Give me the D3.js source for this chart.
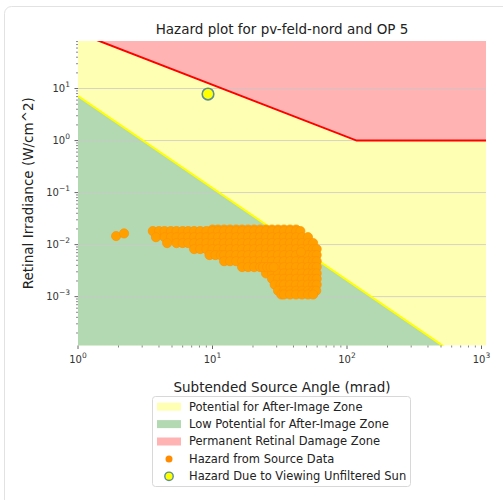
<!DOCTYPE html>
<html><head><meta charset="utf-8">
<script src="https://cdn.jsdelivr.net/npm/d3@7/dist/d3.min.js"></script>
<style>body{margin:0;background:#fff} svg{display:block;font-family:"DejaVu Sans",sans-serif}</style>
</head><body><svg id="c" width="503" height="500"></svg>
<script>
const titleText = "Hazard plot for pv-feld-nord and OP 5";
const xLabelText = "Subtended Source Angle (mrad)";
const yLabelText = "Retinal Irradiance (W/cm^2)";
const xDomain = [1, 1080];
const yDomain = [1.15e-4, 82];
const xTickExps = [0, 1, 2, 3];
const yTickExps = [-3, -2, -1, 0, 1];

// Permanent retinal damage threshold (red line)
const damageAngle = [1, 118, 1100];
const damageIrr = [118, 1, 1];
// After-image threshold (yellow line)
const afterAngle = [1, 600];
const afterIrr = [7.2, 8.7e-5];
// Unfiltered sun
const sunAngle = [9.26];
const sunIrr = [7.84];

// Hazard from source data: irradiance rows and angles in each row
const hazardIrradiance = [0.0195, 0.0182, 0.0139, 0.0107, 0.0082, 0.0063, 0.0048, 0.0037, 0.0028, 0.0022, 0.0017, 0.0013, 0.0011];
const hazardAngles = [
  [10, 11, 12.2, 13.5, 15, 16.6, 18.4, 20.4, 22.6, 25, 27.7, 30.7, 34, 37.7, 41.8],
  [3.6, 4.0, 4.4, 4.9, 5.4, 6.0, 6.6, 7.3, 8.1, 9.0, 10, 11, 12.2, 13.5, 15, 16.6, 18.4, 20.4, 22.6, 25, 27.7, 30.7, 34, 37.7, 41.8, 45],
  [3.8, 4.4, 4.9, 5.4, 6.0, 6.6, 7.3, 8.1, 9.0, 10, 11, 12.2, 13.5, 15, 16.6, 18.4, 20.4, 22.6, 25, 27.7, 30.7, 34, 37.7, 41.8, 46.3, 51.3],
  [4.6, 5.4, 6.0, 6.6, 7.3, 8.1, 9.0, 10, 11, 12.2, 13.5, 15, 16.6, 18.4, 20.4, 22.6, 25, 27.7, 30.7, 34, 37.7, 41.8, 46.3, 51.3, 56],
  [7.3, 8.1, 9.0, 10, 11, 12.2, 13.5, 15, 16.6, 18.4, 20.4, 22.6, 25, 27.7, 30.7, 34, 37.7, 41.8, 46.3, 51.3, 56, 59.5],
  [9.5, 10.5, 11.5, 12.2, 13.5, 15, 16.6, 18.4, 20.4, 22.6, 25, 27.7, 30.7, 34, 37.7, 41.8, 46.3, 51.3, 56, 59.5],
  [12.2, 13.5, 15, 16.6, 18.4, 20.4, 22.6, 25, 27.7, 30.7, 34, 37.7, 41.8, 46.3, 51.3, 56, 59.5],
  [16.6, 18.4, 20.4, 22.6, 25, 27.7, 30.7, 34, 37.7, 41.8, 46.3, 51.3, 56, 59.5],
  [25, 27.7, 30.7, 34, 37.7, 41.8, 46.3, 51.3, 56, 59.5],
  [27.7, 30.7, 34, 37.7, 41.8, 46.3, 51.3, 56, 59.5],
  [29, 32, 34, 37.7, 41.8, 46.3, 51.3, 56, 59.5],
  [30.7, 34, 37.7, 41.8, 46.3, 51.3, 56, 59],
  [32.5, 34, 37.7, 41.8, 46.3, 51.3, 56]
];
const isolatedAngle = [1.92, 2.2, 45.5, 23.7, 25.5, 27, 28.5];
const isolatedIrr = [0.0146, 0.0164, 0.0072, 0.0037, 0.0037, 0.0037, 0.0037];

const legendLabels = ["Potential for After-Image Zone", "Low Potential for After-Image Zone", "Permanent Retinal Damage Zone", "Hazard from Source Data", "Hazard Due to Viewing Unfiltered Sun"];

const C = {yellow: "#ffffb3", green: "#b3d9b3", red: "#ffb3b3", orange: "#ffa000", orangeEdge: "#ff9200"};

const svg = d3.select("#c");
const L = 78, R = 486, T = 41, B = 345.5;
const x = d3.scaleLog().domain(xDomain).range([L, R]);
const y = d3.scaleLog().domain(yDomain).range([B, T]);

// outer frame
svg.append("rect").attr("x", 4.5).attr("y", 6.5).attr("width", 620).attr("height", 620).attr("rx", 7)
  .attr("fill", "none").attr("stroke", "#e2e2e2");

svg.append("defs").append("clipPath").attr("id", "clip").append("rect")
  .attr("x", L).attr("y", T).attr("width", R - L).attr("height", B - T);
const plot = svg.append("g").attr("clip-path", "url(#clip)");

const damage = damageAngle.map((a, i) => [a, damageIrr[i]]);
const after = afterAngle.map((a, i) => [a, afterIrr[i]]);

plot.append("path").datum(damage)
  .attr("d", d3.area().x(d => x(d[0])).y0(B).y1(d => y(d[1])))
  .attr("fill", C.yellow);
plot.append("path").datum(damage)
  .attr("d", d3.area().x(d => x(d[0])).y0(T - 5).y1(d => y(d[1])))
  .attr("fill", C.red);
plot.append("path").datum(after)
  .attr("d", d3.area().x(d => x(d[0])).y0(B + 5).y1(d => y(d[1])))
  .attr("fill", C.green);

// grid
plot.selectAll("line.grid").data(yTickExps).enter().append("line")
  .attr("x1", L).attr("x2", R)
  .attr("y1", d => y(Math.pow(10, d))).attr("y2", d => y(Math.pow(10, d)))
  .attr("stroke", "#c8c8c8").attr("stroke-width", 0.8);

const line = d3.line().x(d => x(d[0])).y(d => y(d[1]));
plot.append("path").datum(damage).attr("d", line).attr("fill", "none").attr("stroke", "#ff0000").attr("stroke-width", 2);
plot.append("path").datum(after).attr("d", line).attr("fill", "none").attr("stroke", "#ffff00").attr("stroke-width", 2);

// hazard points
const pts = [];
hazardIrradiance.forEach((e, i) => hazardAngles[i].forEach(a => pts.push([a, e])));
isolatedAngle.forEach((a, i) => pts.push([a, isolatedIrr[i]]));
plot.selectAll("circle.h").data(pts).enter().append("circle")
  .attr("cx", d => x(d[0])).attr("cy", d => y(d[1])).attr("r", 4.6)
  .attr("fill", C.orange).attr("stroke", C.orangeEdge).attr("stroke-width", 0.7);

// sun
plot.selectAll("circle.s").data(sunAngle).enter().append("circle")
  .attr("cx", d => x(d)).attr("cy", (d, i) => y(sunIrr[i])).attr("r", 5.8)
  .attr("fill", "#ffff00").attr("stroke", "#5a8f96").attr("stroke-width", 1.6);

// axes
const isMajor = v => Math.abs(Math.log10(v) - Math.round(Math.log10(v))) < 1e-9;
const xt = x.ticks().filter(v => v >= xDomain[0] && v <= xDomain[1]);
const yt = y.ticks().filter(v => v >= yDomain[0] && v <= yDomain[1]);
const tickCol = "#555";
const gx = svg.append("g").attr("transform", `translate(0,${B})`);
gx.selectAll("line").data(xt).enter().append("line")
  .attr("x1", d => x(d)).attr("x2", d => x(d)).attr("y1", 0).attr("y2", d => isMajor(d) ? 3.5 : 2)
  .attr("stroke", tickCol).attr("stroke-width", d => isMajor(d) ? 0.9 : 0.7);
const gy = svg.append("g").attr("transform", `translate(${L},0)`);
gy.selectAll("line").data(yt).enter().append("line")
  .attr("y1", d => y(d)).attr("y2", d => y(d)).attr("x1", 0).attr("x2", d => isMajor(d) ? -3.5 : -2)
  .attr("stroke", tickCol).attr("stroke-width", d => isMajor(d) ? 0.9 : 0.7);

const supLabel = (sel, e) => {
  sel.append("tspan").text("10");
  sel.append("tspan").attr("dy", -5).attr("font-size", 7.5).text(e < 0 ? "\u2212" + (-e) : String(e));
};
xTickExps.forEach(e => {
  const t = svg.append("text").attr("x", x(Math.pow(10, e))).attr("y", 363).attr("text-anchor", "middle")
    .attr("font-size", 10).attr("fill", "#333");
  supLabel(t, e);
});
yTickExps.forEach(e => {
  const t = svg.append("text").attr("x", 70).attr("y", y(Math.pow(10, e)) + 3.5).attr("text-anchor", "end")
    .attr("font-size", 10).attr("fill", "#333");
  supLabel(t, e);
});

svg.append("text").attr("x", (L + R) / 2).attr("y", 34).attr("text-anchor", "middle")
  .attr("font-size", 13.5).attr("fill", "#222").text(titleText);
svg.append("text").attr("x", (L + R) / 2).attr("y", 392).attr("text-anchor", "middle")
  .attr("font-size", 13.5).attr("fill", "#222").text(xLabelText);
svg.append("text").attr("transform", `translate(33,${(T + B) / 2}) rotate(-90)`).attr("text-anchor", "middle")
  .attr("font-size", 13.5).attr("fill", "#222").text(yLabelText);

// legend
const lg = svg.append("g");
lg.append("rect").attr("x", 152.5).attr("y", 396.5).attr("width", 258).attr("height", 90).attr("rx", 3)
  .attr("fill", "#fff").attr("stroke", "#d8d8d8");
const rowY = i => 406.7 + i * 17.4;
const patchCols = [C.yellow, C.green, C.red];
legendLabels.forEach((lab, i) => {
  const cy = rowY(i);
  if (i < 3) {
    lg.append("rect").attr("x", 157).attr("y", cy - 4).attr("width", 24).attr("height", 8).attr("fill", patchCols[i]);
  } else if (i === 3) {
    lg.append("circle").attr("cx", 169).attr("cy", cy).attr("r", 3.5).attr("fill", "#ff8c00");
  } else {
    lg.append("circle").attr("cx", 169).attr("cy", cy).attr("r", 4.2).attr("fill", "#ffff00").attr("stroke", "#5a8f96").attr("stroke-width", 1.4);
  }
  lg.append("text").attr("x", 189).attr("y", cy + 3.9).attr("font-size", 11.5).attr("fill", "#222").text(lab);
});
</script></body></html>
